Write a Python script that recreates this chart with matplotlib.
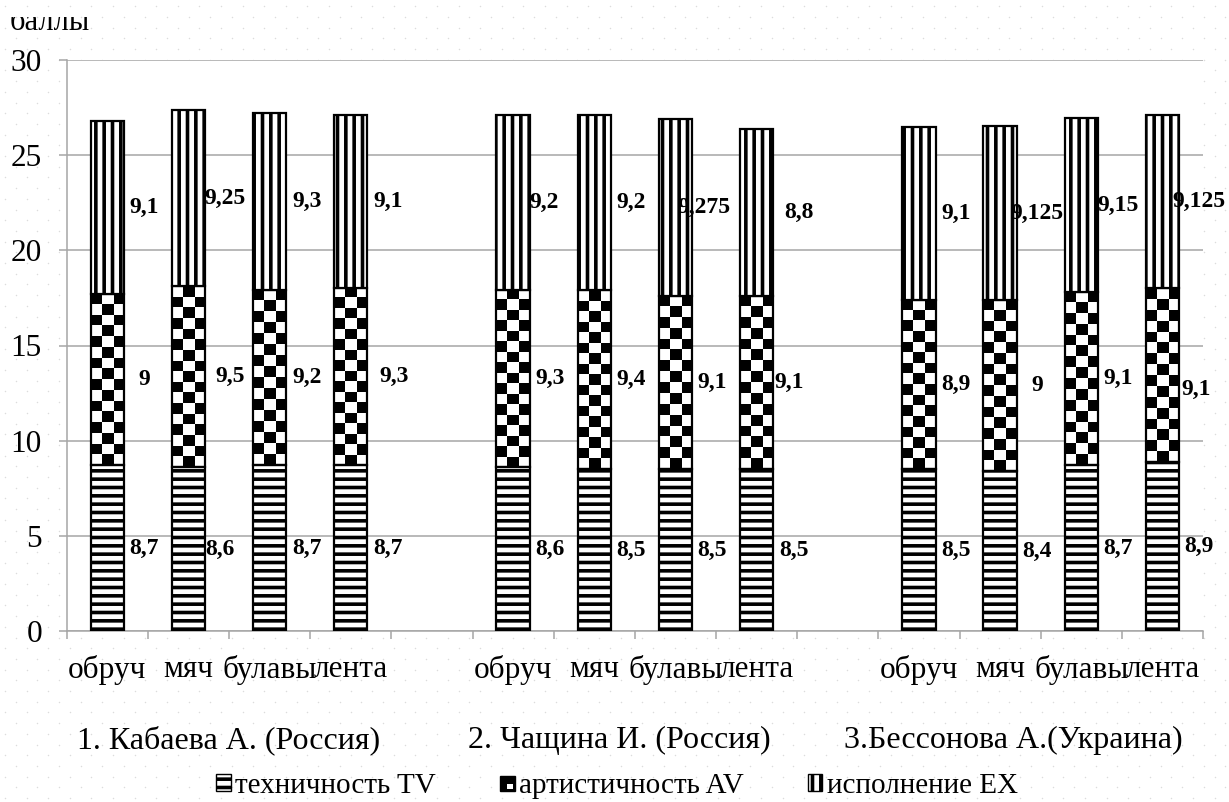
import matplotlib
matplotlib.use("Agg")
import matplotlib.pyplot as plt
import numpy as np
from matplotlib.patches import Rectangle, Patch
from matplotlib.colors import ListedColormap
from matplotlib.legend_handler import HandlerBase
from matplotlib.transforms import Bbox, ScaledTranslation, blended_transform_factory

plt.rcParams["font.family"] = ["Liberation Serif", "DejaVu Serif"]
plt.rcParams["hatch.linewidth"] = 2.6

# ---------------------------------------------------------------------------
# data
# ---------------------------------------------------------------------------
apparatus = ["обруч", "мяч", "булавы", "лента"]
gymnasts = ["1. Кабаева А. (Россия)", "2. Чащина И. (Россия)",
            "3.Бессонова А.(Украина)"]
series_names = ["техничность TV", "артистичность AV", "исполнение EX"]

tv = [8.7, 8.6, 8.7, 8.7, 8.6, 8.5, 8.5, 8.5, 8.5, 8.4, 8.7, 8.9]
av = [9, 9.5, 9.2, 9.3, 9.3, 9.4, 9.1, 9.1, 8.9, 9, 9.1, 9.1]
ex = [9.1, 9.25, 9.3, 9.1, 9.2, 9.2, 9.275, 8.8, 9.1, 9.125, 9.15, 9.125]

y_ticks = [0, 5, 10, 15, 20, 25, 30]

# label nudges (pixels) where the original labels were dragged around
nudge = {("tv", 1): (-6, 0), ("av", 1): (5, 0), ("av", 3): (6, 0),
         ("av", 7): (-4, 0), ("av", 11): (-3, -14), ("ex", 4): (-6, 0),
         ("ex", 6): (-8, 0), ("ex", 7): (5, 0)}
group_nudge = [0, -16, -27]

W_PX, H_PX = 1229, 802
GRAY = "#a6a6a6"

fig = plt.figure(figsize=(W_PX / 100, H_PX / 100), dpi=100)

# dotted chart-area background (Excel pattern fill)
bg = fig.add_axes([0, 0, 1, 1], zorder=-10)
bg.set_xlim(0, W_PX)
bg.set_ylim(0, H_PX)
bg.axis("off")
for k, yy in enumerate(np.arange(4, H_PX, 10.7)):
    xx = np.arange(5 + (k % 2) * 10.8, W_PX, 21.6)
    bg.scatter(xx, np.full_like(xx, yy), s=1.2, color="#dcdcdc", lw=0)

left, right, top, bottom = 66.7, 1203, 60, 631
ax = fig.add_axes([left / W_PX, 1 - bottom / H_PX,
                   (right - left) / W_PX, (bottom - top) / H_PX])
ax.set_facecolor("white")

n_slots = len(gymnasts) * (len(apparatus) + 1) - 1
x = np.array([g * (len(apparatus) + 1) + j
              for g in range(len(gymnasts)) for j in range(len(apparatus))])
width = 0.41

ax.set_xlim(-0.5, n_slots - 0.5)
ax.set_ylim(0, 30)

bar_kw = dict(width=width, edgecolor="black", linewidth=1.6, zorder=3)
b_tv = ax.bar(x, tv, facecolor="white", hatch="--", **bar_kw)
b_av = ax.bar(x, av, bottom=tv, facecolor="none", **bar_kw)
ex_bottom = np.add(tv, av)
b_ex = ax.bar(x, ex, bottom=ex_bottom, facecolor="white", hatch="||", **bar_kw)

# checkerboard fill for AV (no such hatch in matplotlib)
ppu = ax.transData.transform((0, 1))[1] - ax.transData.transform((0, 0))[1]
checker_cmap = ListedColormap(["white", "black"])
for rect in b_av.patches:
    x0, y0 = rect.get_x(), rect.get_y()
    w, h = rect.get_width(), rect.get_height()
    rows = max(1, int(round(h * ppu / 10.7)))
    pat = np.indices((rows, 3)).sum(axis=0) % 2
    ax.imshow(pat, extent=(x0, x0 + w, y0, y0 + h), origin="lower",
              cmap=checker_cmap, interpolation="nearest", aspect="auto",
              zorder=2.5)
ax.set_xlim(-0.5, n_slots - 0.5)
ax.set_ylim(0, 30)


def fmt(v):
    return f"{v:g}".replace(".", ",")


for key, vals, bots in [("tv", tv, np.zeros(len(tv))),
                        ("av", av, np.array(tv)),
                        ("ex", ex, ex_bottom)]:
    for i, (v, b) in enumerate(zip(vals, bots)):
        dx, dy = nudge.get((key, i), (0, 0))
        ax.annotate(fmt(v), xy=(x[i], b + v / 2), xytext=(37 + dx, dy),
                    textcoords="offset pixels", ha="center", va="center",
                    fontsize=17, fontweight="bold", zorder=6)

# axes styling
ax.set_axisbelow(True)
ax.yaxis.grid(True, color=GRAY, linewidth=1.1)
for s in ["top", "right"]:
    ax.spines[s].set_visible(False)
for s in ["left", "bottom"]:
    ax.spines[s].set_color(GRAY)
    ax.spines[s].set_linewidth(1.1)

ax.set_yticks(y_ticks)
ax.tick_params(axis="y", length=5.8, color=GRAY, width=1.1, pad=12,
               labelsize=22.5)
ax.set_xticks(np.arange(-0.5, n_slots, 1.0))
ax.set_xticklabels([])
ax.tick_params(axis="x", which="major", length=5.8, color=GRAY, width=1.1)
ax.set_xticks(x, minor=True)
ax.set_xticklabels(apparatus * len(gymnasts), minor=True)
ax.tick_params(axis="x", which="minor", length=0, pad=17, labelsize=22.5)

# group labels below the apparatus names
tr = blended_transform_factory(ax.transData, fig.transFigure)
for g, name in enumerate(gymnasts):
    gx = x[g * len(apparatus):(g + 1) * len(apparatus)].mean()
    off = ScaledTranslation(group_nudge[g] / 100, 0, fig.dpi_scale_trans)
    ax.text(gx, 1 - 740 / H_PX, name, transform=tr + off, ha="center",
            va="center", fontsize=23)

# y-axis title, top clipped like in the source
yt = fig.text(10 / W_PX, 1 - 30 / H_PX, "баллы", ha="left", va="baseline",
              fontsize=22)
yt.set_clip_on(True)
yt.set_clip_box(Bbox.from_extents(0, 0, W_PX, H_PX - 17))


class CheckerHandler(HandlerBase):
    def create_artists(self, legend, orig_handle, xdescent, ydescent,
                       width, height, fontsize, trans):
        s = min(width, height)
        x0, y0 = -xdescent + (width - s) / 2, -ydescent
        return [Rectangle((x0, y0), s, s, facecolor="black",
                          edgecolor="black", lw=1, transform=trans),
                Rectangle((x0 + s * 0.5, y0 + s * 0.15), s * 0.4, s * 0.35,
                          facecolor="white", lw=0, transform=trans)]


h_tv = Patch(facecolor="white", edgecolor="black", hatch="--", lw=1)
h_av = Patch(facecolor="black", edgecolor="black")
h_ex = Patch(facecolor="white", edgecolor="black", hatch="||", lw=1)
fig.legend([h_tv, h_av, h_ex], series_names, loc="center",
           bbox_to_anchor=(617 / W_PX, 1 - 786 / H_PX), ncol=3,
           frameon=False, fontsize=21, handlelength=0.5, handleheight=0.5,
           handletextpad=0.15, columnspacing=2.2,
           handler_map={h_av: CheckerHandler()})

fig.savefig("out.png", dpi=100)
